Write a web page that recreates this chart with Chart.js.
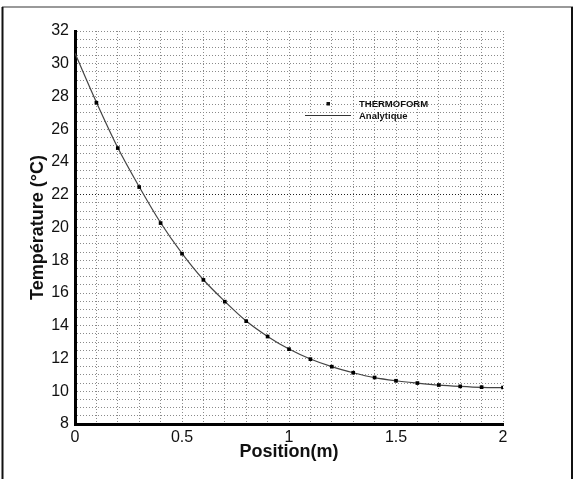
<!DOCTYPE html>
<html>
<head>
<meta charset="utf-8">
<script src="https://cdn.jsdelivr.net/npm/chart.js@4.4.1/dist/chart.umd.min.js"></script>
<style>
  html, body { margin: 0; padding: 0; background: #ffffff; }
  #wrap { width: 577px; height: 479px; position: relative; }
</style>
</head>
<body>
<div id="wrap"><canvas id="c" width="577" height="479"></canvas></div>
<script>
// ---- Data ----
const positions = [0, 0.1, 0.2, 0.3, 0.4, 0.5, 0.6, 0.7, 0.8, 0.9, 1.0, 1.1, 1.2, 1.3, 1.4, 1.5, 1.6, 1.7, 1.8, 1.9, 2.0];
const thermoform = [null, 27.62, 24.85, 22.47, 20.27, 18.40, 16.80, 15.47, 14.28, 13.34, 12.57, 11.96, 11.50, 11.13, 10.84, 10.64, 10.50, 10.38, 10.30, 10.25, 10.23];
const analytique = [30.64, 27.65, 24.87, 22.49, 20.29, 18.42, 16.81, 15.49, 14.29, 13.35, 12.58, 11.97, 11.50, 11.13, 10.83, 10.64, 10.50, 10.38, 10.30, 10.24, 10.22];
const xTickLabels = ['0', '0.5', '1', '1.5', '2'];
const yTickLabels = ['8', '10', '12', '14', '16', '18', '20', '22', '24', '26', '28', '30', '32'];
const seriesNames = ['THERMOFORM', 'Analytique'];
const xTitle = 'Position(m)';
const yTitle = 'Température (°C)';

const toXY = (vals) => positions.map((x, i) => ({ x: x, y: vals[i] })).filter(p => p.y !== null);

const fontFamily = '"Liberation Sans", Arial, sans-serif';

const framePlugin = {
  id: 'frame',
  beforeDraw(chart) {
    const ctx = chart.ctx;
    ctx.save();
    ctx.fillStyle = '#ffffff';
    ctx.fillRect(0, 0, chart.width, chart.height);
    ctx.restore();
  },
  afterDraw(chart) {
    const ctx = chart.ctx;
    ctx.save();
    ctx.strokeStyle = '#999999';
    ctx.lineWidth = 2;
    ctx.beginPath(); ctx.moveTo(2, 7); ctx.lineTo(573, 7); ctx.stroke();
    ctx.strokeStyle = '#111111';
    ctx.beginPath(); ctx.moveTo(2.5, 7); ctx.lineTo(2.5, 479); ctx.stroke();
    ctx.beginPath(); ctx.moveTo(572, 7); ctx.lineTo(572, 479); ctx.stroke();
    ctx.restore();
  }
};

const legendPlugin = {
  id: 'customLegend',
  afterDatasetsDraw(chart) {
    const ctx = chart.ctx;
    const ds = chart.data.datasets;
    ctx.save();
    ctx.font = 'bold 9.5px ' + fontFamily;
    ctx.fillStyle = '#111111';
    ctx.textBaseline = 'middle';
    ctx.textAlign = 'left';
    // THERMOFORM (marker)
    ctx.fillRect(326.5, 102, 3.5, 3.5);
    ctx.fillText(ds[0].label, 359, 104);
    // Analytique (line)
    ctx.strokeStyle = '#333333';
    ctx.lineWidth = 1;
    ctx.beginPath(); ctx.moveTo(305, 115.5); ctx.lineTo(351, 115.5); ctx.stroke();
    ctx.fillText(ds[1].label, 359, 116);
    ctx.restore();
  }
};

new Chart(document.getElementById('c'), {
  type: 'scatter',
  data: {
    datasets: [
      {
        label: seriesNames[0],
        data: toXY(thermoform),
        showLine: false,
        pointStyle: 'rect',
        pointRadius: 2.6,
        pointBackgroundColor: '#000000',
        pointBorderColor: '#000000',
        pointBorderWidth: 0,
        order: 0
      },
      {
        label: seriesNames[1],
        data: toXY(analytique),
        showLine: true,
        cubicInterpolationMode: 'monotone',
        borderColor: '#444444',
        borderWidth: 1.2,
        pointRadius: 0,
        order: 1
      }
    ]
  },
  options: {
    responsive: false,
    animation: false,
    events: [],
    layout: { padding: { left: 27, top: 31, right: 74, bottom: 0 } },
    plugins: { legend: { display: false }, tooltip: { enabled: false }, title: { display: false } },
    scales: {
      x: {
        type: 'linear',
        min: 0, max: 2,
        afterFit(scale) { scale.height = 55; },
        afterBuildTicks(scale) {
          const t = [];
          for (let i = 0; i <= 20; i++) t.push({ value: i / 10 });
          scale.ticks = t;
        },
        ticks: {
          autoSkip: false, maxRotation: 0, padding: 4,
          color: '#111111',
          font: { family: fontFamily, size: 16 },
          callback(v) {
            const s = String(Math.round(v * 10) / 10);
            return xTickLabels.includes(s) ? s : '';
          }
        },
        grid: { color: '#8a8a8a', lineWidth: 1, drawTicks: false },
        border: { display: true, color: '#000000', width: 3, dash: [1, 2] },
        title: {
          display: true, text: xTitle, color: '#111111',
          font: { family: fontFamily, size: 18, weight: 'bold' },
          padding: { top: 0, bottom: 16 }
        }
      },
      y: {
        type: 'linear',
        min: 8, max: 32,
        afterFit(scale) { scale.width = 48; },
        afterBuildTicks(scale) {
          const t = [];
          for (let i = 0; i <= 48; i++) t.push({ value: 8 + i * 0.5 });
          scale.ticks = t;
        },
        ticks: {
          autoSkip: false, padding: 6,
          color: '#111111',
          font: { family: fontFamily, size: 16 },
          callback(v) {
            const s = String(v);
            return yTickLabels.includes(s) ? s : '';
          }
        },
        grid: {
          drawTicks: false,
          lineWidth: 1,
          color(ctx) { return (ctx.tick && ctx.tick.value === 22) ? '#222222' : '#8a8a8a'; }
        },
        border: { display: true, color: '#000000', width: 3, dash: [1, 2] },
        title: {
          display: true, text: yTitle, color: '#111111',
          font: { family: fontFamily, size: 18, weight: 'bold' },
          padding: { top: 0, bottom: 0 }
        }
      }
    }
  },
  plugins: [framePlugin, legendPlugin]
});
</script>
</body>
</html>
